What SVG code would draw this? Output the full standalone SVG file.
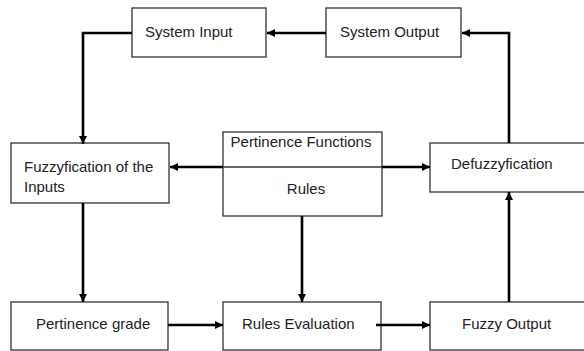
<svg xmlns="http://www.w3.org/2000/svg" width="584" height="351" viewBox="0 0 584 351">
<defs>
<style>
.box{fill:#fff;stroke:#333;stroke-width:1.3}
.lbl{font-family:"Liberation Sans",Arial,sans-serif;font-size:15px;fill:#222}
.con{fill:none;stroke:#000;stroke-width:2.6;stroke-linejoin:miter}
</style>
<marker id="ah" markerUnits="userSpaceOnUse" markerWidth="9" markerHeight="9" refX="8" refY="4.5" orient="auto">
<path d="M0,0.5 L8,4.5 L0,8.5 z" fill="#000"/>
</marker>
</defs>
<rect width="584" height="351" fill="#fff"/>
<g id="system-input"><rect class="box" x="132" y="8" width="134" height="49"/><text class="lbl" x="145" y="37">System Input</text></g>
<g id="system-output"><rect class="box" x="326" y="8" width="135" height="49"/><text class="lbl" x="340" y="37">System Output</text></g>
<g id="fuzzyfication"><rect class="box" x="11" y="143" width="158" height="60"/><text class="lbl" x="24" y="172">Fuzzyfication of the</text><text class="lbl" x="24" y="192">Inputs</text></g>
<g id="pertinence-rules"><rect class="box" x="223" y="132" width="159" height="84"/><line x1="223" y1="167" x2="382" y2="167" stroke="#333" stroke-width="1.3"/><text class="lbl" x="301" y="147" text-anchor="middle">Pertinence Functions</text><text class="lbl" x="306" y="194" text-anchor="middle">Rules</text></g>
<g id="defuzzyfication"><rect class="box" x="430" y="143" width="170" height="49"/><text class="lbl" x="451" y="169">Defuzzyfication</text></g>
<g id="pertinence-grade"><rect class="box" x="11" y="302" width="157" height="48"/><text class="lbl" x="36" y="329">Pertinence grade</text></g>
<g id="rules-evaluation"><rect class="box" x="223" y="302" width="158" height="48"/><text class="lbl" x="242" y="329">Rules Evaluation</text></g>
<g id="fuzzy-output"><rect class="box" x="430" y="302" width="170" height="48"/><text class="lbl" x="462" y="329">Fuzzy Output</text></g>
<g id="connectors">
<path class="con" d="M326,33 L267,33" marker-end="url(#ah)"/>
<path class="con" d="M132,33 L83,33 L83,144" marker-end="url(#ah)"/>
<path class="con" d="M223,167 L170,167" marker-end="url(#ah)"/>
<path class="con" d="M382,167 L430,167" marker-end="url(#ah)"/>
<path class="con" d="M83,203 L83,302" marker-end="url(#ah)"/>
<path class="con" d="M302,216 L302,302" marker-end="url(#ah)"/>
<path class="con" d="M168,325 L223,325" marker-end="url(#ah)"/>
<path class="con" d="M376,325 L430,325" marker-end="url(#ah)"/>
<path class="con" d="M509,302 L509,192" marker-end="url(#ah)"/>
<path class="con" d="M509,143 L509,33 L462,33" marker-end="url(#ah)"/>
</g>
</svg>
